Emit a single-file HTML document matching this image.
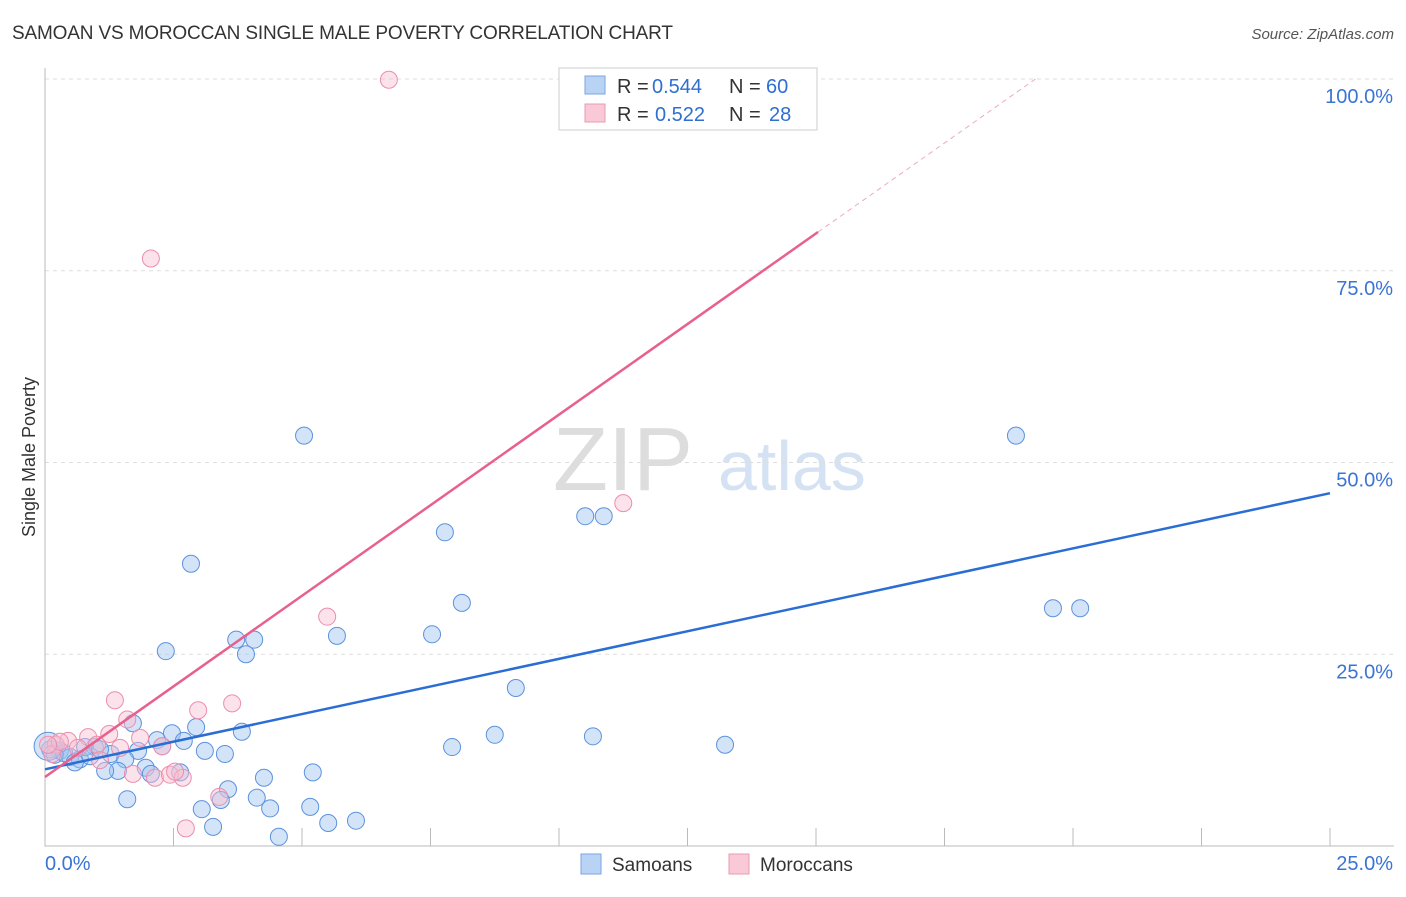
<!DOCTYPE html>
<html><head><meta charset="utf-8"><style>
body{margin:0;background:#fff;font-family:"Liberation Sans",sans-serif;}
svg text{font-family:"Liberation Sans",sans-serif;}
</style></head><body>
<svg id="chart" width="1406" height="892">
<text x="12" y="39" font-size="19" fill="#333" textLength="661">SAMOAN VS MOROCCAN SINGLE MALE POVERTY CORRELATION CHART</text>
<text x="1394" y="39" font-size="15" fill="#555" font-style="italic" text-anchor="end">Source: ZipAtlas.com</text>
<text x="35" y="457" font-size="18" fill="#333" transform="rotate(-90 35 457)" text-anchor="middle">Single Male Poverty</text>
<text x="553" y="490" font-size="90" fill="#ddd" font-family="Liberation Serif">ZIP</text>
<text x="718" y="490" font-size="70" fill="#d4e2f4">atlas</text>
<g id="grid"></g><g id="marks"></g>
<g>
<rect x="559" y="68" width="258" height="62" fill="#fff" stroke="#ccc"/>
<rect x="585" y="76" width="20" height="18" fill="#b9d3f5" stroke="#7aa6e0"/>
<rect x="585" y="104" width="20" height="18" fill="#fac9d7" stroke="#eb9bb3"/>
<text x="617" y="93" font-size="20" fill="#333">R =</text>
<text x="652" y="93" font-size="20" fill="#2e6fd0">0.544</text>
<text x="729" y="93" font-size="20" fill="#333">N =</text>
<text x="766" y="93" font-size="20" fill="#2e6fd0">60</text>
<text x="617" y="121" font-size="20" fill="#333">R =</text>
<text x="655" y="121" font-size="20" fill="#2e6fd0">0.522</text>
<text x="729" y="121" font-size="20" fill="#333">N =</text>
<text x="769" y="121" font-size="20" fill="#2e6fd0">28</text>
</g>
<g>
<rect x="581" y="854" width="20" height="20" fill="#b9d3f5" stroke="#7aa6e0"/>
<text x="612" y="871" font-size="19" fill="#333">Samoans</text>
<rect x="729" y="854" width="20" height="20" fill="#fac9d7" stroke="#eb9bb3"/>
<text x="760" y="871" font-size="19" fill="#333">Moroccans</text>
</g>
</svg>
<script>
const yTicks=[25,50,75,100];
const yTickLabels=["25.0%","50.0%","75.0%","100.0%"];
const samoanX=[5.04,18.89,2.84,7.78,10.51,10.87,8.11,19.61,20.14,7.53,5.68,3.72,4.07,2.35,3.91,9.16,1.71,2.94,3.83,2.47,8.75,10.66,2.18,2.70,2.28,7.92,13.23,0.97,1.81,3.11,3.50,1.28,1.56,0.29,0.49,0.68,0.10,0.19,0.37,0.78,1.42,1.17,1.96,2.06,2.63,5.21,4.26,3.56,1.60,4.12,3.42,3.05,4.38,5.16,3.27,5.51,6.05,4.55,0.88,1.07,0.58];
const samoanY=[53.5,53.5,36.8,40.9,43.0,43.0,31.7,31.0,31.0,27.6,27.4,26.9,26.9,25.4,25.0,20.6,16.0,15.5,14.9,14.7,14.5,14.3,13.8,13.7,13.0,12.9,13.2,12.9,12.4,12.4,12.0,12.0,11.3,12.4,11.6,11.3,12.6,11.9,12.1,12.9,9.8,9.8,10.2,9.4,9.6,9.6,8.9,7.4,6.1,6.3,6.0,4.8,4.9,5.1,2.5,3.0,3.3,1.2,11.7,12.6,10.9];
const moroccanX=[6.69,2.06,11.25,5.49,1.36,3.64,2.98,1.60,1.25,1.85,0.84,0.45,0.21,2.28,1.01,0.64,0.14,0.29,1.71,2.14,2.43,2.68,2.53,3.39,2.74,1.07,1.46,0.06];
const moroccanY=[99.9,76.6,44.7,29.9,19.0,18.6,17.7,16.5,14.6,14.1,14.2,13.7,13.2,13.0,13.2,12.8,12.0,13.6,9.4,8.9,9.3,8.9,9.7,6.4,2.3,11.2,12.8,13.2];
const blueLine=[[0,10.0],[25,46.0]];
const pinkSolid=[[0,9.0],[15.04,80.05]];
const pinkDash=[[15.04,80.05],[19.27,100]];
const X=v=>45+v*51.4, Y=v=>846-v*7.67;
const NS="http://www.w3.org/2000/svg";
const grid=document.getElementById('grid'), marks=document.getElementById('marks');
function mk(tag,attrs,parent){const e=document.createElementNS(NS,tag);for(const k in attrs)e.setAttribute(k,attrs[k]);parent.appendChild(e);return e;}
yTicks.forEach((t,i)=>{
 const l=mk('line',{x1:45,x2:1394,y1:Y(t),y2:Y(t),stroke:'#ddd','stroke-dasharray':'4,4'},grid);
 
 
 const tx=mk('text',{x:1393,y:Y(t)+24,'font-size':20,fill:'#3a74d4','text-anchor':'end'},grid);
 tx.textContent=yTickLabels[i];
 
 
});
for(let i=1;i<=10;i++){
 const t=mk('line',{x1:X(i*2.5),x2:X(i*2.5),y1:828,y2:846,stroke:'#bbb'},grid);
 
 
}
const ax=mk('path',{d:'M45 68V846H1394',fill:'none',stroke:'#bbb'},grid);


[["0.0%",45,'start'],["25.0%",1393,'end']].forEach(a=>{
 const tx=mk('text',{x:a[1],y:870,'font-size':20,fill:'#3a74d4','text-anchor':a[2]},grid);
 tx.textContent=a[0];
 
 
});
samoanX.forEach((x,i)=>{
 const c=mk('circle',{cx:X(x),cy:Y(samoanY[i]),r:8.5,fill:'rgba(160,196,240,0.45)',stroke:'#5b92dc','stroke-width':1},marks);
 
 
});
const big=mk('circle',{cx:X(0.06),cy:Y(13),r:14,fill:'rgba(160,196,240,0.45)',stroke:'#5b92dc'},marks);


moroccanX.forEach((x,i)=>{
 const c=mk('circle',{cx:X(x),cy:Y(moroccanY[i]),r:8.5,fill:'rgba(248,190,208,0.45)',stroke:'#eb8fae','stroke-width':1},marks);
 
 
});
const bl=mk('line',{x1:X(blueLine[0][0]),y1:Y(blueLine[0][1]),x2:X(blueLine[1][0]),y2:Y(blueLine[1][1]),stroke:'#2a6dd4','stroke-width':2.5},marks);


const pl=mk('line',{x1:X(pinkSolid[0][0]),y1:Y(pinkSolid[0][1]),x2:X(pinkSolid[1][0]),y2:Y(pinkSolid[1][1]),stroke:'#e8608e','stroke-width':2.5},marks);


const pd=mk('line',{x1:X(pinkDash[0][0]),y1:Y(pinkDash[0][1]),x2:X(pinkDash[1][0]),y2:Y(pinkDash[1][1]),stroke:'#f0a8c0','stroke-width':1,'stroke-dasharray':'5,4'},marks);


</script>
</body></html>
